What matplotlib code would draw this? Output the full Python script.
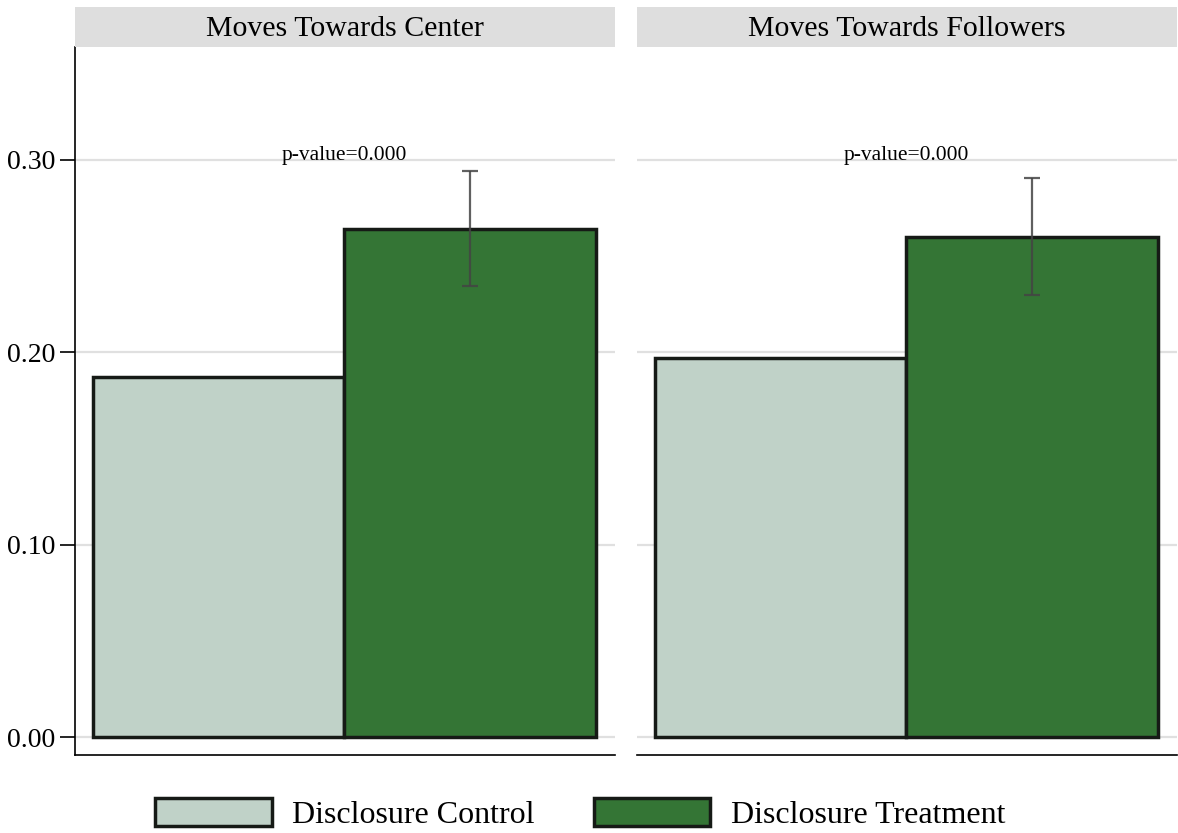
import matplotlib.pyplot as plt
import numpy as np
from matplotlib.patches import Patch

#------------------------------------------------------------
# data
#------------------------------------------------------------
panels = ["Moves Towards Center", "Moves Towards Followers"]
groups = ["Disclosure Control", "Disclosure Treatment"]
control = [0.187, 0.197]
treatment = [0.264, 0.260]
treat_lo = [0.2345, 0.2298]
treat_hi = [0.2943, 0.2907]
pvals = ["p-value=0.000", "p-value=0.000"]
yticks = [0.0, 0.1, 0.2, 0.3]

c_ctrl = "#c0d2c8"
c_trt = "#347535"
edge = "#161a16"

plt.rcParams["font.family"] = ["Liberation Serif", "DejaVu Serif"]

fig = plt.figure(figsize=(11.78, 8.33), dpi=100)
lefts = [75/1178, 637/1178]
w = 540/1178
bot = 1 - 755/833
h = (755 - 47)/833
hdr_h = 40/833

for i in range(2):
    ax = fig.add_axes([lefts[i], bot, w, h])
    ax.set_ylim(-0.0092, 0.3586)
    ax.set_xlim(-0.572, 1.576)
    for y in yticks:
        ax.axhline(y, color="#e0e0e0", lw=1.6, zorder=0)
    ax.bar(0, control[i], width=1.0, color=c_ctrl, edgecolor=edge, lw=2.5, zorder=2)
    ax.bar(1, treatment[i], width=1.0, color=c_trt, edgecolor=edge, lw=2.5, zorder=2)
    mid = (treat_lo[i] + treat_hi[i]) / 2
    ax.errorbar(1, mid, yerr=[[mid - treat_lo[i]], [treat_hi[i] - mid]],
                fmt="none", ecolor="#444444", elinewidth=1.6, capsize=6,
                capthick=1.6, zorder=3, alpha=0.85)
    ax.text(0.5, 0.3, pvals[i], ha="center", va="baseline", fontsize=15.5)
    ax.set_xticks([])
    ax.spines["top"].set_visible(False)
    ax.spines["right"].set_visible(False)
    ax.spines["bottom"].set_linewidth(1.2)
    ax.spines["bottom"].set_position(("data", -0.0092))
    if i == 0:
        ax.spines["left"].set_linewidth(1.2)
        ax.set_yticks(yticks)
        ax.set_yticklabels([f"{t:.2f}" for t in yticks], fontsize=20)
        ax.tick_params(axis="y", length=11, width=1.2, pad=3)
    else:
        ax.spines["left"].set_visible(False)
        ax.set_yticks([])
    # header strip
    hax = fig.add_axes([lefts[i], bot + h, w, hdr_h])
    hax.set_facecolor("#dedede")
    for s in hax.spines.values():
        s.set_visible(False)
    hax.set_xticks([])
    hax.set_yticks([])
    hax.text(0.5, 0.45, panels[i], ha="center", va="center", fontsize=21.5,
             transform=hax.transAxes)

handles = [Patch(facecolor=c_ctrl, edgecolor=edge, lw=2.5),
           Patch(facecolor=c_trt, edgecolor=edge, lw=2.5)]
fig.legend(handles, groups, loc="center", bbox_to_anchor=(580/1178, 1 - 814/833),
           ncol=2, frameon=False, fontsize=23, handlelength=3.66, handleheight=0.95,
           handletextpad=0.63, columnspacing=1.85, borderpad=0, borderaxespad=0)

fig.savefig("out.png", dpi=100)
